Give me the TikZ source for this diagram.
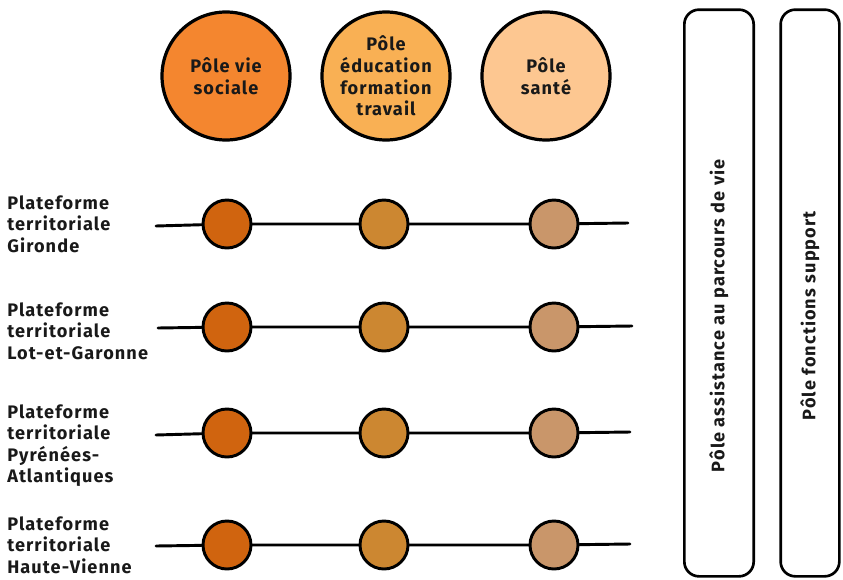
\documentclass[tikz,border=0pt]{standalone}
\usepackage{fontspec}
\setmainfont{Fira Sans}[LetterSpace=6]
\definecolor{vieC}{RGB}{244,134,47}
\definecolor{eduC}{RGB}{249,176,84}
\definecolor{santeC}{RGB}{253,199,145}
\definecolor{vieD}{RGB}{208,100,15}
\definecolor{eduD}{RGB}{204,135,49}
\definecolor{santeD}{RGB}{201,150,106}
\tikzset{
  txt/.style={font=\bfseries\fontsize{13.6}{16.2}\selectfont, text=black!90, inner sep=0.75pt},
  pole/.style={circle, draw=black, line width=2.4pt, minimum size=96pt, align=center, txt},
  dot/.style={circle, draw=black, line width=2.2pt, minimum size=36pt},
  plat/.style={txt, anchor=north west, align=left},
  fil/.style={line width=2.2pt, line cap=round},
  bande/.style={draw=black, line width=2pt, rounded corners=11pt, rotate=90, minimum width=425pt},
}
\begin{document}
\begin{tikzpicture}[x=0.75pt,y=0.75pt,yscale=-1,xscale=1]
    \useasboundingbox (0,0) rectangle (843,579);
    % poles
    \node [pole, fill=vieC] (vie) at (226,76) {Pôle vie\\sociale};
    \node [pole, fill=eduC] (edu) at (386,76) {Pôle\\éducation\\formation\\travail};
    \node [pole, fill=santeC] (sante) at (546,76) {Pôle\\santé};
    % bandes verticales
    \node [bande, minimum height=52pt] (assist) at (719,293) {};
    \node [bande, minimum height=44pt] (support) at (810,293) {};
    \node [txt, rotate=90] (assistT) at ([yshift=17pt]assist.center) {Pôle assistance au parcours de vie};
    \node [txt, rotate=90] (supportT) at ([yshift=17pt]support.center) {Pôle fonctions support};
    % plateformes
    \node [plat] (gir) at (6,194) {Plateforme\\territoriale\\Gironde};
    \node [plat] (lot) at (6,301) {Plateforme\\territoriale\\Lot-et-Garonne};
    \node [plat] (pyr) at (6,403) {Plateforme\\territoriale\\Pyrénées-\\Atlantiques};
    \node [plat] (hv) at (6,515) {Plateforme\\territoriale\\Haute-Vienne};
    % ligne Gironde
    \coordinate (girA) at (156,226);
    \coordinate (girB) at (628,223);
    \node [dot, fill=vieD] (gir1) at (227,224) {};
    \node [dot, fill=eduD] (gir2) at (384,224) {};
    \node [dot, fill=santeD] (gir3) at (554,224) {};
    \draw [fil] (girA) -- (gir1) -- (gir2) -- (gir3) -- (girB);
    % ligne Lot-et-Garonne
    \coordinate (lotA) at (158,328);
    \coordinate (lotB) at (632,326);
    \node [dot, fill=vieD] (lot1) at (227,327) {};
    \node [dot, fill=eduD] (lot2) at (384,327) {};
    \node [dot, fill=santeD] (lot3) at (554,327) {};
    \draw [fil] (lotA) -- (lot1) -- (lot2) -- (lot3) -- (lotB);
    % ligne Pyrenees-Atlantiques
    \coordinate (pyrA) at (156,435);
    \coordinate (pyrB) at (630,432);
    \node [dot, fill=vieD] (pyr1) at (227,433) {};
    \node [dot, fill=eduD] (pyr2) at (384,433) {};
    \node [dot, fill=santeD] (pyr3) at (554,433) {};
    \draw [fil] (pyrA) -- (pyr1) -- (pyr2) -- (pyr3) -- (pyrB);
    % ligne Haute-Vienne
    \coordinate (hvA) at (156,546);
    \coordinate (hvB) at (630,544);
    \node [dot, fill=vieD] (hv1) at (227,545) {};
    \node [dot, fill=eduD] (hv2) at (384,545) {};
    \node [dot, fill=santeD] (hv3) at (554,545) {};
    \draw [fil] (hvA) -- (hv1) -- (hv2) -- (hv3) -- (hvB);
\end{tikzpicture}
\end{document}
